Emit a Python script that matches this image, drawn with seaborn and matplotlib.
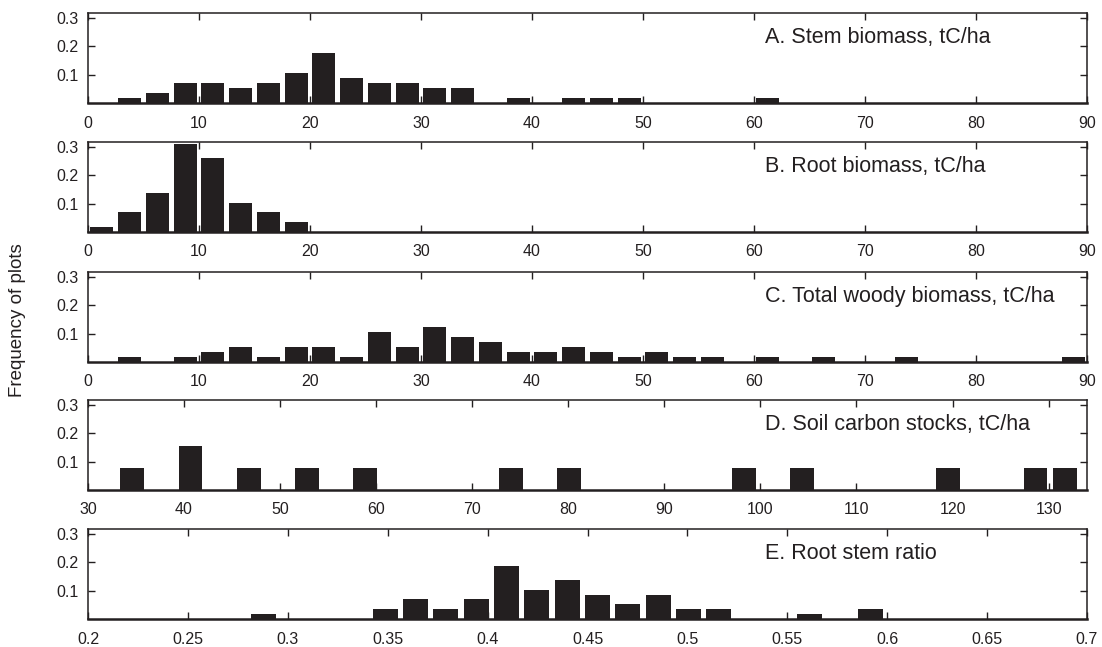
import numpy as np
import pandas as pd
import matplotlib
matplotlib.use("Agg")
import matplotlib.pyplot as plt
import seaborn as sns

# ---------------- data (relative frequency per bin) ----------------
# A. Stem biomass: bins of 2.5 tC/ha starting at 0
stem_centers = [3.75, 6.25, 8.75, 11.25, 13.75, 16.25, 18.75, 21.25, 23.75, 26.25,
                28.75, 31.25, 33.75, 38.75, 43.75, 46.25, 48.75, 61.25]
stem_freq = [0.018, 0.035, 0.070, 0.070, 0.053, 0.070, 0.105, 0.175, 0.088, 0.070,
             0.070, 0.053, 0.053, 0.018, 0.018, 0.018, 0.018, 0.018]

# B. Root biomass
root_centers = [1.25, 3.75, 6.25, 8.75, 11.25, 13.75, 16.25, 18.75]
root_freq = [0.018, 0.070, 0.139, 0.312, 0.260, 0.104, 0.070, 0.035]

# C. Total woody biomass
wood_centers = [3.75, 8.75, 11.25, 13.75, 16.25, 18.75, 21.25, 23.75, 26.25, 28.75,
                31.25, 33.75, 36.25, 38.75, 41.25, 43.75, 46.25, 48.75, 51.25, 53.75,
                56.25, 61.25, 66.25, 73.75, 88.75]
wood_freq = [0.018, 0.018, 0.036, 0.054, 0.018, 0.054, 0.054, 0.018, 0.107, 0.054,
             0.124, 0.089, 0.071, 0.036, 0.036, 0.054, 0.036, 0.018, 0.036, 0.018,
             0.018, 0.018, 0.018, 0.018, 0.018]

# D. Soil carbon stocks (bins of ~3.03 tC/ha)
soil_centers = [34.6, 40.67, 46.73, 52.8, 58.87, 74.03, 80.1, 98.3, 104.37, 119.53, 128.63, 131.67]
soil_freq = [0.077, 0.154, 0.077, 0.077, 0.077, 0.077, 0.077, 0.077, 0.077, 0.077, 0.077, 0.077]

# E. Root stem ratio (bins of ~0.0152)
ratio_centers = [0.2880, 0.3487, 0.3639, 0.3791, 0.3943, 0.4094, 0.4246, 0.4398,
                 0.4550, 0.4702, 0.4854, 0.5005, 0.5157, 0.5612, 0.5916]
ratio_freq = [0.019, 0.035, 0.069, 0.035, 0.069, 0.189, 0.103, 0.138, 0.086,
              0.052, 0.086, 0.035, 0.035, 0.019, 0.035]

titles = ["A. Stem biomass, tC/ha", "B. Root biomass, tC/ha",
          "C. Total woody biomass, tC/ha", "D. Soil carbon stocks, tC/ha",
          "E. Root stem ratio"]
xticks_list = [list(range(0, 91, 10)), list(range(0, 91, 10)), list(range(0, 91, 10)),
               list(range(30, 131, 10)),
               [0.2, 0.25, 0.3, 0.35, 0.4, 0.45, 0.5, 0.55, 0.6, 0.65, 0.7]]
xlabels_list = [[str(v) for v in xticks_list[0]], [str(v) for v in xticks_list[1]],
                [str(v) for v in xticks_list[2]], [str(v) for v in xticks_list[3]],
                ["0.2", "0.25", "0.3", "0.35", "0.4", "0.45", "0.5", "0.55", "0.6", "0.65", "0.7"]]
yticks = [0.1, 0.2, 0.3]
ytick_labels = ["0.1", "0.2", "0.3"]
ylabel = "Frequency of plots"

# ---------------- style ----------------
sns.set_theme(style="ticks")
plt.rcParams["font.family"] = ["Liberation Sans", "DejaVu Sans"]
ink = "#231f20"

W, H = 1102, 647
fig = plt.figure(figsize=(W / 100, H / 100), dpi=100)

panels = [
    (stem_centers, stem_freq, 2.5, (0, 90)),
    (root_centers, root_freq, 2.5, (0, 90)),
    (wood_centers, wood_freq, 2.5, (0, 90)),
    (soil_centers, soil_freq, 3.0333, (30, 134)),
    (ratio_centers, ratio_freq, 0.01518, (0.2, 0.7)),
]
tops = [13, 142, 272, 400, 529]
ax_h = 90
left_px, right_px = 88, 1087

for i, (centers, freq, bw, xlim) in enumerate(panels):
    top = tops[i]
    ax = fig.add_axes([left_px / W, 1 - (top + ax_h) / H, (right_px - left_px) / W, ax_h / H])
    df = pd.DataFrame({"x": centers, "w": freq})
    lo = min(centers) - bw / 2
    hi = max(centers) + bw / 2
    sns.histplot(data=df, x="x", weights="w", binwidth=bw, binrange=(lo, hi),
                 shrink=0.82, color=ink, alpha=1, linewidth=0, ax=ax)
    ax.set_xlim(*xlim)
    ax.set_ylim(0, 0.318)
    ax.set_xticks(xticks_list[i])
    ax.set_xticklabels(xlabels_list[i])
    ax.set_yticks(yticks)
    ax.set_yticklabels(ytick_labels)
    ax.set_xlabel("")
    ax.set_ylabel("")
    ax.tick_params(direction="in", top=True, right=True, length=5, width=1.0,
                   colors=ink, labelsize=11.5, pad=7)
    ax.tick_params(axis="x", pad=9)
    for s in ax.spines.values():
        s.set_color(ink)
        s.set_linewidth(1.1)
    ax.spines["bottom"].set_linewidth(1.8)
    ax.text((765 - left_px) / (right_px - left_px), 0.73, titles[i], transform=ax.transAxes,
            ha="left", va="center", fontsize=15.5, color=ink)

fig.text(18 / W, 1 - 320 / H, ylabel, rotation=90, ha="center", va="center",
         fontsize=13.5, color=ink)

fig.savefig("out.png", dpi=100, facecolor="white")
